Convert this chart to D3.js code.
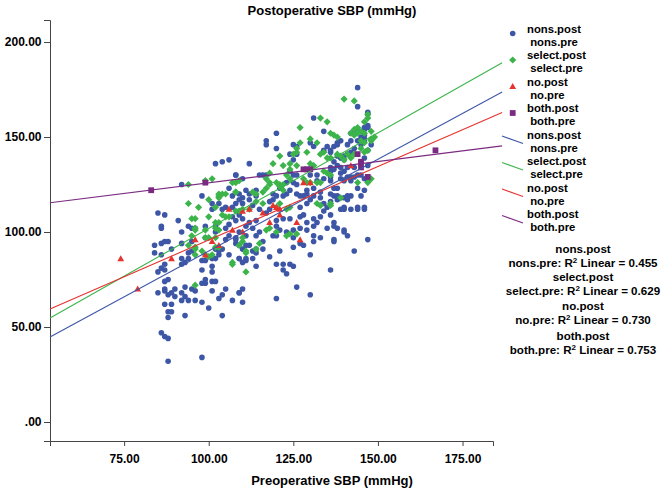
<!DOCTYPE html>
<html><head><meta charset="utf-8">
<script src="https://cdn.jsdelivr.net/npm/d3@7"></script>
<style>
body{margin:0;background:#fff}
text{font-family:"Liberation Sans",Arial,sans-serif;font-weight:bold;fill:#000}
</style>
</head><body>
<svg id="chart" width="667" height="492"></svg>
<script>
// ---------- DATA ----------
const groupNames = ["nons", "select", "no", "both"];
const groupColors = ["#3d56a6", "#3cb44b", "#e5332f", "#7b2a81"];
const xTickValues = [75, 100, 125, 150, 175];
const yTickValues = [0, 50, 100, 150, 200];
const xDomain = [53.1, 184];
const yDomain = [-10, 211.6];
const fitXRange = [53.1, 186.7];
const fitIntercepts = [-6.6, 1.3, 18.4, 103.5];
const fitSlopes = [0.966, 1.006, 0.774, 0.224];
const r2Values = ["0.455", "0.629", "0.730", "0.753"];

const nonsPoints = [
[85,110],[87,109],[86,103],[86,102],[91,106],[92,100],[92,125],[98,119],[94,103],[101,115],
[102,136],[104,137],[106,138],[108,130],[106,123],[107,119],[109,120],
[84,93],[86,94],[87,95],[88,95],[84,89],[86,88],[89,91],[92,94],[95,95],[94,89],[95,90],
[92,86],[94,86],[93,84],[92,83],[87,83],[86,81],[87,80],[85,79],[88,75],[87,74],[87,70],[87,69],[85,68],
[88,67],[89,68],[90,70],[90,66],[92,68],[93,71],[93,66],[92,64],[94,64],[95,70],[96,69],
[87,62],[89,62],[88,58],[89,58],[88,55],[93,56],[96,64],[98,63],[100,60],
[98,73],[99,73],[99,75],[101,74],[102,74],[98,80],[101,79],[101,82],
[98,85],[99,85],[101,86],[102,86],[103,90],[102,91],
[101,69],[103,65],[104,67],[105,70],[104,56],[107,64],[109,68],[106,88],[108,94],[109,86],
[86,47],[87,45],[88,44],[88,32],[98,34],
[95,102],[96,102],[101,112],[103,115],[105,113],[104,112],[107,113],[109,111],[106,104],[108,106],[107,108],
[99,103],[102,103],[105,102],[102,100],[99,97],
[105,96],[106,98],[108,96],[104,91],[103,88],[109,93],
[131,160],[134,153],[120,152],[117,148],[117,146],[120,144],[125,146],[126,145],[130,147],[131,145],[135,145],
[134,143],[136,142],[112,136],[124,141],[126,141],[125,138],
[136,132],[108,130],[110,128],[115,130],[116,130],[117,130],[124,132],[125,130],[126,130],[130,130],[132,130],[132,127],[134,128],
[123,126],[125,126],[126,125],[124,122],[129,122],[129,120],[131,123],[136,127],
[111,122],[112,120],[110,118],[109,117],[108,115],[110,115],[112,117],[114,122],[114,119],[113,114],
[119,120],[120,119],[119,117],[118,116],[121,123],[123,120],[122,119],[126,120],[127,119],[128,119],
[131,119],[133,121],[136,120],[133,118],[130,117],[129,115],[127,113],[136,116],[134,115],
[135,113],[134,111],[136,109],[127,108],[128,109],[129,105],[122,107],[120,106],[124,107],
[115,112],[117,110],[118,112],[109,109],[110,107],[112,105],[114,106],
[111,103],[113,102],[109,100],[115,100],[120,103],[121,101],[123,100],[125,101],
[127,102],[129,101],[131,103],[132,105],[133,108],[131,107],[135,102],
[111,98],[114,98],[119,98],[120,98],[125,97],[131,98],[133,97],[108,97],[111,93],[112,93],[110,91],[113,90],[114,91],[116,95],[116,91],[114,89],
[121,90],[125,92],[127,94],[128,93],[131,95],[130,88],[118,87],[113,86],[111,86],[109,86],[110,84],[111,85],
[120,83],[122,83],[124,83],[125,82],[122,80],[123,78],[114,82],[136,80],[126,71],[130,67],[110,70],[109,68],[120,65],[110,63],
[144,176],[144,166],[147,163],[147,162],[146,155],[147,156],[144,153],[143,153],[142,152],[145,150],[146,149],[144,148],
[138,147],[139,148],[137,145],[136,143],[147,143],[146,139],[141,141],[140,138],[145,135],[147,135],[139,134],[136,134],[137,133],
[136,129],[139,128],[141,129],[142,127],[143,129],[146,128],[147,127],[137,123],[138,123],[144,123],[146,122],
[137,119],[141,119],[145,119],[141,117],[138,117],[140,113],[144,113],[146,113],[144,112],
[137,105],[137,103],[140,100],[141,98],[137,95],[147,96],[143,90],[137,96],
[138,146],[141,146],[142,148],[142,142],[146,151],[147,155],[146,154],[138,140],[139,139],[140,140],
[143,144],[145,146],[146,148],[148,146],[145,137],[143,134],[141,134],[138,135],[137,137],
[139,131],[140,132],[142,129],[144,130],[140,127],[145,130],[147,129],[138,119],[140,118],[142,119],
[140,112],[142,112],[146,112],[139,112],[138,102],[140,101]
];

const selectPoints = [
[101,128],[94,125],[99,127],[94,115],[97,113],[100,117],[103,119],[103,118],[95,107],[96,107],[100,108],[102,105],[102,113],
[99,101],[96,101],[95,98],[99,97],[100,97],[94,93],[96,91],[96,88],[98,90],[99,88],[100,87],[101,88],[96,72],[102,97],
[107,126],[108,126],[109,127],[103,120],[104,120],[105,120],[108,121],[104,109],[105,108],[106,108],[103,105],[96,102],
[96,92],[107,83],
[140,170],[143,169],[147,162],[147,160],[133,160],[135,158],[127,155],[146,158],
[143,154],[144,155],[142,152],[143,151],[144,152],[145,153],[146,152],[148,153],[149,150],[148,149],
[130,149],[132,147],[136,152],[137,151],[138,150],[127,147],[129,142],[133,141],[134,142],[126,144],[126,142],[125,141],[121,140],
[135,139],[136,139],[138,141],[139,140],[140,138],[141,141],[142,139],[143,141],[145,144],[146,142],[147,143],[148,148],
[119,136],[122,135],[124,136],[126,135],[130,136],[131,135],[134,132],[135,131],[136,130],
[118,131],[117,128],[118,126],[120,126],[121,125],[122,122],[123,130],[124,128],[128,128],[129,126],[130,126],[132,126],[133,126],
[144,126],[147,126],[148,128],[108,121],[108,111],[109,111],[110,112],[112,112],[114,116],[116,115],
[132,115],[133,114],[136,115],[139,118],[117,101],[118,102],[120,100],[123,98],[110,97],[136,114],
[111,79],[109,93],[110,95],[115,94],[114,91],[124,133],[113,121],[114,120],[116,121],[117,123],[118,125],[121,124],[122,125],
[120,113],[121,115],[123,112],[124,113],[126,99],[111,90],[111,89],[107,84],[102,102],[103,101],[102,92],[103,92],[124,99],
[145,148],[146,147]
];

const noPoints = [
[74,86],[79,70],[89,86],[96,96],[99,88],[101,95],[103,93],[106,112],[107,101],[110,111],[110,100],[112,112],
[116,110],[118,105],[119,114],[120,113],[121,112],[121,109],[126,105],[127,96],[128,126],[130,126],[142,135]
];

const bothPoints = [
[83,122],[99,126],[128,133],[129,133],[130,133],[144,141],[145,137],[145,134],[147,129],[167,143]
];

// ---------- CHART ----------
const svg = d3.select("#chart");
const x = d3.scaleLinear().domain(xDomain).range([50, 493]);
const y = d3.scaleLinear().domain(yDomain).range([441, 20]);
const axisColor = "#444";
const fmt = d => d === 0 ? ".00" : d.toFixed(2);

const gx = svg.append("g").attr("transform", "translate(0,441)")
  .call(d3.axisBottom(x).tickValues(xTickValues).tickFormat(fmt).tickSizeOuter(0).tickSize(5).tickPadding(8.5));
const gy = svg.append("g").attr("transform", "translate(50,0)")
  .call(d3.axisLeft(y).tickValues(yTickValues).tickFormat(fmt).tickSizeOuter(0).tickSize(6).tickPadding(2.5));
[gx, gy].forEach(g => {
  g.selectAll("path,line").attr("stroke", axisColor);
  g.selectAll("text").attr("font-size", 12).attr("font-weight", "bold")
    .attr("font-family", '"Liberation Sans",Arial,sans-serif').attr("fill", "#000");
});

const shapes = [
  "M2.8,0A2.8,2.8,0,1,1,-2.8,0A2.8,2.8,0,1,1,2.8,0Z",
  "M0,-3.6L3.6,0L0,3.6L-3.6,0Z",
  "M0,-3.4L3.4,2.6L-3.4,2.6Z",
  "M-2.9,-2.9H2.9V2.9H-2.9Z"
];
const allPoints = [nonsPoints, selectPoints, noPoints, bothPoints];

allPoints.forEach((pts, i) => {
  svg.append("g").selectAll("path").data(pts).join("path")
    .attr("d", shapes[i])
    .attr("transform", d => `translate(${x(d[0])},${y(d[1])})`)
    .attr("fill", groupColors[i]);
});

// regression lines
groupNames.forEach((g, i) => {
  const xs = fitXRange;
  svg.append("line")
    .attr("x1", x(xs[0])).attr("y1", y(fitIntercepts[i] + fitSlopes[i] * xs[0]))
    .attr("x2", x(xs[1])).attr("y2", y(fitIntercepts[i] + fitSlopes[i] * xs[1]))
    .attr("stroke", groupColors[i]).attr("stroke-width", 1.1);
});

// titles
svg.append("text").attr("x", 332).attr("y", 14.5).attr("text-anchor", "middle")
  .attr("font-size", 13).text("Postoperative SBP (mmHg)");
svg.append("text").attr("x", 332).attr("y", 484.5).attr("text-anchor", "middle")
  .attr("font-size", 13).text("Preoperative SBP (mmHg)");

// legend
const leg = svg.append("g");
const legFont = 11.3;
for (let k = 0; k < 8; k++) {
  const i = k % 4;
  const cy = 35 + 26.5 * k;
  if (k < 4) {
    leg.append("path").attr("d", shapes[i])
      .attr("transform", `translate(512.7,${cy - 1.5})`).attr("fill", groupColors[i]);
  } else {
    leg.append("line").attr("x1", 502).attr("y1", cy - 5).attr("x2", 523).attr("y2", cy + 2.5)
      .attr("stroke", groupColors[i]).attr("stroke-width", 1.1);
  }
  const t1 = leg.append("text").attr("x", 527).attr("y", cy - 2.2).attr("font-size", legFont)
    .text(groupNames[i] + ".post");
  const w = t1.node().getComputedTextLength();
  leg.append("text").attr("x", 527 + w / 2).attr("y", cy + 10.8).attr("font-size", legFont)
    .attr("text-anchor", "middle").text(groupNames[i] + ".pre");
}

// R squared block
const r2Y = [253, 281, 310, 339.5];
groupNames.forEach((g, i) => {
  svg.append("text").attr("x", 583).attr("y", r2Y[i]).attr("text-anchor", "middle")
    .attr("font-size", 11.6).text(g + ".post");
  const t = svg.append("text").attr("x", 583).attr("y", r2Y[i] + 14.2).attr("text-anchor", "middle")
    .attr("font-size", 11.6);
  t.append("tspan").text(g + ".pre: R");
  t.append("tspan").attr("font-size", 8).attr("dy", -4).text("2");
  t.append("tspan").attr("dy", 4).text(" Linear = " + r2Values[i]);
});
</script>
</body></html>
